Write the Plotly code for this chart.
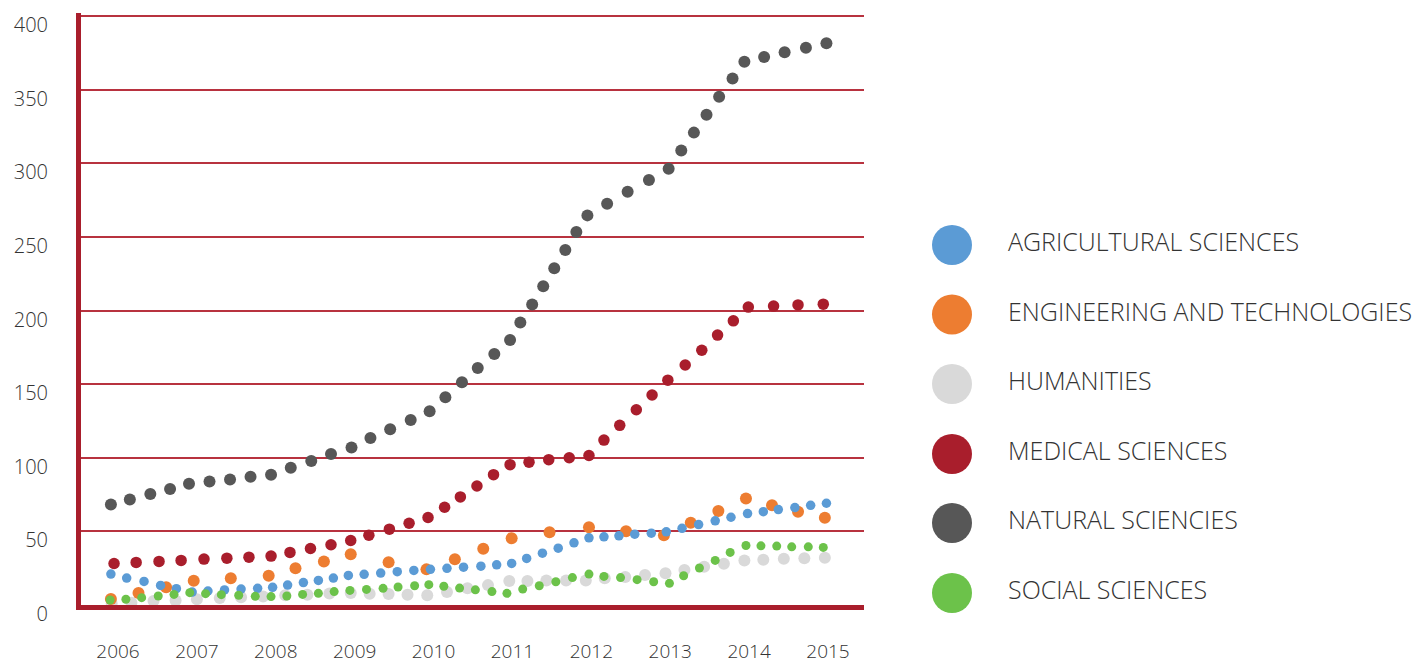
import plotly.graph_objects as go

# --- data (x = fractional year, y = value) ---
agri_x = [2005.91, 2006.11, 2006.33, 2006.54, 2006.74, 2006.94, 2007.14, 2007.35, 2007.56, 2007.77,
          2007.96, 2008.15, 2008.35, 2008.54, 2008.73, 2008.92, 2009.12, 2009.33, 2009.54, 2009.75,
          2009.96, 2010.17, 2010.38, 2010.60, 2010.80, 2010.99, 2011.18, 2011.38, 2011.58, 2011.78,
          2011.97, 2012.16, 2012.35, 2012.55, 2012.76, 2012.95, 2013.15, 2013.36, 2013.57, 2013.77,
          2013.98, 2014.18, 2014.37, 2014.58, 2014.78, 2014.98]
agri_y = [21.0, 18.3, 16.0, 13.3, 11.1, 8.8, 9.5, 10.2, 10.8, 11.3,
          12.0, 13.5, 15.2, 16.7, 18.3, 20.1, 20.8, 21.7, 22.6, 23.5,
          24.2, 24.9, 25.7, 26.4, 27.3, 28.2, 31.6, 35.2, 38.6, 42.2,
          45.6, 46.3, 47.0, 48.1, 48.8, 49.7, 52.1, 54.6, 57.2, 59.6,
          62.1, 63.4, 64.8, 66.2, 67.7, 69.1]

eng_x = [2005.91, 2006.26, 2006.61, 2006.96, 2007.43, 2007.91, 2008.25, 2008.61, 2008.95, 2009.43,
         2009.91, 2010.27, 2010.63, 2010.99, 2011.47, 2011.97, 2012.44, 2012.92, 2013.26, 2013.61,
         2013.96, 2014.29, 2014.62, 2014.96]
eng_y = [4.1, 8.1, 12.0, 16.5, 18.1, 19.9, 24.9, 29.6, 34.4, 29.1,
         24.2, 31.1, 38.2, 45.4, 49.4, 52.8, 50.1, 47.4, 55.8, 63.9,
         72.3, 67.7, 63.4, 59.2]

hum_x = [2005.92, 2006.17, 2006.45, 2006.73, 2007.00, 2007.29, 2007.56, 2007.84, 2008.12, 2008.40,
         2008.68, 2008.95, 2009.19, 2009.43, 2009.67, 2009.92, 2010.17, 2010.43, 2010.69, 2010.96,
         2011.19, 2011.43, 2011.68, 2011.93, 2012.17, 2012.43, 2012.68, 2012.94, 2013.18, 2013.43,
         2013.68, 2013.94, 2014.18, 2014.44, 2014.70, 2014.96]
hum_y = [0.8, 1.5, 2.7, 3.0, 3.9, 4.8, 5.2, 5.8, 6.6, 7.0,
         7.8, 8.2, 7.7, 7.4, 7.0, 6.6, 8.8, 11.3, 13.5, 16.3,
         16.3, 16.7, 16.7, 16.7, 18.1, 19.0, 20.3, 21.5, 23.8, 25.9,
         28.0, 30.2, 30.7, 31.4, 31.8, 32.1]

med_x = [2005.95, 2006.23, 2006.52, 2006.80, 2007.09, 2007.38, 2007.66, 2007.94, 2008.18, 2008.44,
         2008.70, 2008.95, 2009.18, 2009.44, 2009.69, 2009.93, 2010.14, 2010.34, 2010.55, 2010.76,
         2010.97, 2011.21, 2011.46, 2011.72, 2011.97, 2012.16, 2012.36, 2012.57, 2012.77, 2012.97,
         2013.19, 2013.40, 2013.60, 2013.80, 2013.99, 2014.31, 2014.62, 2014.94]
med_y = [28.2, 28.9, 29.6, 30.3, 31.2, 31.8, 32.5, 33.2, 35.7, 38.4,
         40.9, 43.8, 47.4, 51.5, 55.5, 59.4, 66.4, 73.4, 80.8, 88.5,
         95.3, 97.0, 98.7, 100.0, 101.5, 112.0, 122.0, 132.6, 142.6, 152.7,
         163.0, 173.0, 183.3, 193.0, 202.3, 203.0, 203.8, 204.3]

nat_x = [2005.91, 2006.15, 2006.41, 2006.66, 2006.90, 2007.16, 2007.42, 2007.68, 2007.94, 2008.19,
         2008.45, 2008.70, 2008.96, 2009.20, 2009.45, 2009.71, 2009.95, 2010.15, 2010.36, 2010.56,
         2010.77, 2010.97, 2011.10, 2011.25, 2011.39, 2011.53, 2011.67, 2011.81, 2011.95, 2012.20,
         2012.46, 2012.73, 2012.98, 2013.14, 2013.30, 2013.46, 2013.62, 2013.79, 2013.94, 2014.19,
         2014.45, 2014.72, 2014.98]
nat_y = [68.2, 71.6, 75.4, 78.8, 82.4, 83.8, 85.3, 87.1, 88.5, 93.2,
         97.8, 102.5, 107.0, 113.4, 119.4, 125.7, 131.6, 141.1, 151.3, 161.0,
         170.4, 180.0, 191.9, 204.1, 216.5, 228.7, 241.1, 253.3, 264.6, 272.5,
         280.6, 288.7, 296.2, 308.6, 320.8, 332.9, 345.1, 357.5, 369.0, 372.2,
         375.4, 378.5, 381.5]

soc_x = [2005.90, 2006.10, 2006.30, 2006.51, 2006.71, 2006.91, 2007.11, 2007.31, 2007.53, 2007.74,
         2007.94, 2008.14, 2008.34, 2008.54, 2008.74, 2008.94, 2009.15, 2009.36, 2009.55, 2009.76,
         2009.94, 2010.13, 2010.33, 2010.53, 2010.74, 2010.93, 2011.13, 2011.34, 2011.55, 2011.76,
         2011.97, 2012.16, 2012.37, 2012.58, 2012.79, 2012.99, 2013.17, 2013.37, 2013.57, 2013.76,
         2013.96, 2014.15, 2014.35, 2014.54, 2014.75, 2014.94]
soc_y = [3.4, 3.9, 5.0, 6.1, 7.2, 8.4, 7.7, 7.0, 6.6, 5.9,
         5.7, 6.1, 7.2, 7.9, 9.1, 9.9, 10.6, 11.3, 12.2, 13.1,
         13.8, 12.7, 11.5, 10.3, 9.1, 7.9, 10.8, 13.1, 15.8, 18.6,
         21.0, 19.4, 18.6, 17.2, 15.8, 14.7, 19.9, 25.1, 30.3, 35.7,
         40.4, 40.2, 40.0, 39.5, 39.5, 39.1]

years = list(range(2006, 2016))
y_ticks = list(range(0, 401, 50))

legend_names = ["AGRICULTURAL SCIENCES", "ENGINEERING AND TECHNOLOGIES", "HUMANITIES",
                "MEDICAL SCIENCES", "NATURAL SCIENCIES", "SOCIAL SCIENCES"]
colors = ["#5B9BD5", "#ED7D31", "#D9D9D9", "#A91E2C", "#575757", "#6CC24A"]

RED = "#A91E2C"
OFF = 8                          # browser body margin around the plot div
W, H = 1421 - OFF, 664 - OFF

fig = go.Figure()

# draw order: humanities behind, then engineering, agricultural, social, medical, natural
series = [
    (hum_x, hum_y, colors[2], 12),
    (eng_x, eng_y, colors[1], 12),
    (agri_x, agri_y, colors[0], 9.5),
    (soc_x, soc_y, colors[5], 9),
    (med_x, med_y, colors[3], 11.5),
    (nat_x, nat_y, colors[4], 12),
]
for xs, ys, c, s in series:
    fig.add_trace(go.Scatter(x=xs, y=ys, mode="markers", cliponaxis=False,
                             marker=dict(color=c, size=s, line=dict(width=0)),
                             showlegend=False, hoverinfo="skip"))

# hand-made legend with big circles on a second pair of axes (screen-pixel coords)
leg_y = [245, 314.5, 384, 454, 523, 593]
fig.add_trace(go.Scatter(x=[952] * 6, y=leg_y, mode="markers", xaxis="x2", yaxis="y2",
                         marker=dict(color=colors, size=40, line=dict(width=0)),
                         showlegend=False, hoverinfo="skip", cliponaxis=False))
fig.add_trace(go.Scatter(x=[1008] * 6, y=leg_y, mode="text", xaxis="x2", yaxis="y2",
                         text=legend_names, textposition="middle right",
                         textfont=dict(family="Open Sans", size=25, color="#333333", weight=300),
                         showlegend=False, hoverinfo="skip", cliponaxis=False))

# plot area in screen pixels
x0, x1 = 81, 864
y_top, y_bot = 13, 605          # 400 gridline sits at y=16
y_max = 400 + (16 - y_top) * 400 / (y_bot - 16)
px_per_year = 78.89
leg_dom = 0.64
fig.update_layout(
    width=W, height=H,
    margin=dict(l=0, r=0, t=0, b=0, autoexpand=False),
    paper_bgcolor="white", plot_bgcolor="white",
    font=dict(family="Open Sans", color="#333333"),
    xaxis=dict(
        domain=[(x0 - OFF) / W, (x1 - OFF) / W],
        range=[2006 + (x0 - 118) / px_per_year, 2006 + (x1 - 118) / px_per_year],
        tickvals=years, ticktext=[str(y) for y in years],
        showgrid=False, zeroline=False, automargin=False,
        showline=True, linecolor=RED, linewidth=5,
        ticks="", ticklabelstandoff=25,
        tickfont=dict(size=19, color="#333333", weight=300),
    ),
    yaxis=dict(
        domain=[(H - (y_bot - OFF)) / H, (H - (y_top - OFF)) / H],
        range=[0, y_max],
        tickvals=y_ticks,
        showgrid=True, gridcolor="#B8323F", gridwidth=1.5,
        zeroline=False, automargin=False,
        showline=True, linecolor=RED, linewidth=5,
        ticks="", ticklabelstandoff=24, ticklabelshift=9,
        tickfont=dict(size=20, color="#333333", weight=300),
    ),
    xaxis2=dict(domain=[leg_dom, 1.0], range=[leg_dom * W + OFF, W + OFF],
                visible=False, anchor="y2", automargin=False),
    yaxis2=dict(domain=[0, 1], range=[H + OFF, OFF], visible=False, anchor="x2",
                automargin=False),
)

fig.write_html("out.html")
